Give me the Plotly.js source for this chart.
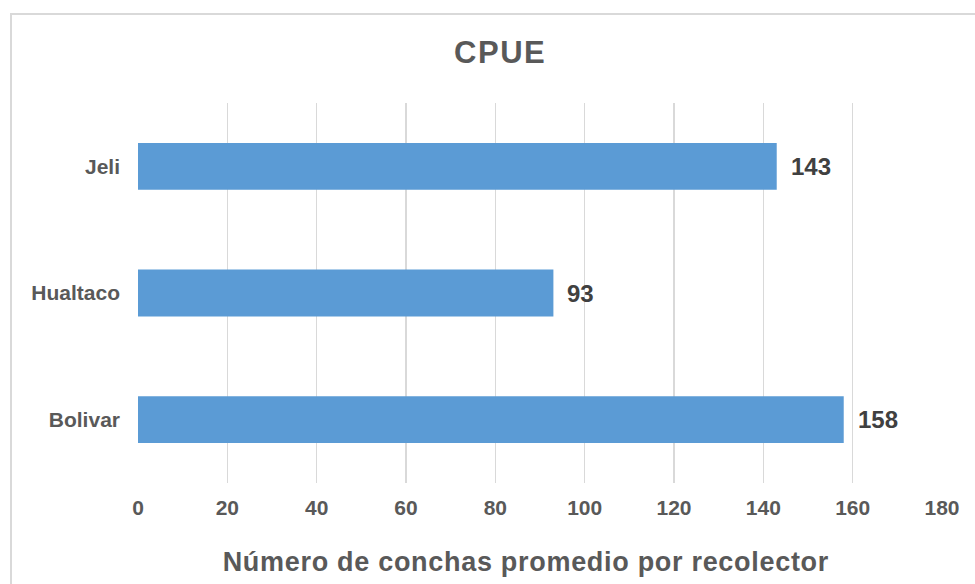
<!DOCTYPE html>
<html>
<head>
<meta charset="utf-8">
<script src="https://cdn.plot.ly/plotly-3.0.1.min.js"></script>
<style>
  html, body { margin: 0; padding: 0; background: #ffffff; }
  #chart { position: absolute; left: 0; top: 0; width: 975px; height: 584px; }
  #frame { position: absolute; left: 10px; top: 13px; width: 980px; height: 590px;
           border: 2px solid #d9d9d9; box-sizing: border-box; pointer-events: none; }
  .gtitle { letter-spacing: 1.5px; }
  g.annotation[data-index="3"] text { letter-spacing: 0.7px; }
</style>
</head>
<body>
<div id="chart"></div>
<div id="frame"></div>
<script>
const categories = ['Bolivar', 'Hualtaco', 'Jeli'];
const values = [158, 93, 143];
const tickValues = [0, 20, 40, 60, 80, 100, 120, 140, 160, 180];
const chartTitle = 'CPUE';
const xAxisTitle = 'Número de conchas promedio por recolector';

const font = 'Liberation Sans, Arial, sans-serif';

const trace = {
  type: 'bar',
  orientation: 'h',
  y: categories,
  x: values,
  marker: { color: '#5b9bd5' },
  hoverinfo: 'x+y'
};

const annotations = categories.map((c, i) => ({
  x: values[i], y: c, xref: 'x', yref: 'y',
  text: '<b>' + values[i] + '</b>', showarrow: false,
  xanchor: 'left', xshift: 12,
  font: { family: font, size: 24, color: '#404040' }
}));

annotations.push({
  xref: 'paper', yref: 'paper', x: 0.483, y: -0.208,
  xanchor: 'center', yanchor: 'middle', showarrow: false,
  text: '<b>' + xAxisTitle + '</b>',
  font: { family: font, size: 27, color: '#595959' }
});

const layout = {
  width: 975, height: 584,
  paper_bgcolor: '#ffffff', plot_bgcolor: '#ffffff',
  margin: { l: 138, r: 33, t: 103, b: 101 },
  title: {
    text: '<b>' + chartTitle + '</b>',
    font: { family: font, size: 31, color: '#595959' },
    x: 0.513, xanchor: 'center', y: 0.91, yanchor: 'middle'
  },
  bargap: 0.63,
  showlegend: false,
  xaxis: {
    range: [0, 180],
    tickvals: tickValues,
    ticktext: tickValues.map(v => '<b>' + v + '</b>'),
    showgrid: true, gridcolor: '#d9d9d9', gridwidth: 1.5,
    zeroline: false, showline: false, ticks: '',
    tickfont: { family: font, size: 21, color: '#595959' },
    ticklabelstandoff: 10,
    fixedrange: true
  },
  yaxis: {
    type: 'category',
    range: [-0.5, 2.5],
    showgrid: false, zeroline: false, showline: false, ticks: '',
    ticktext: categories.map(c => '<b>' + c + '</b>'),
    tickvals: categories,
    tickfont: { family: font, size: 21, color: '#595959' },
    ticklabelstandoff: 17,
    fixedrange: true
  },
  annotations: annotations
};

Plotly.newPlot('chart', [trace], layout, { displayModeBar: false, staticPlot: true });
</script>
</body>
</html>
